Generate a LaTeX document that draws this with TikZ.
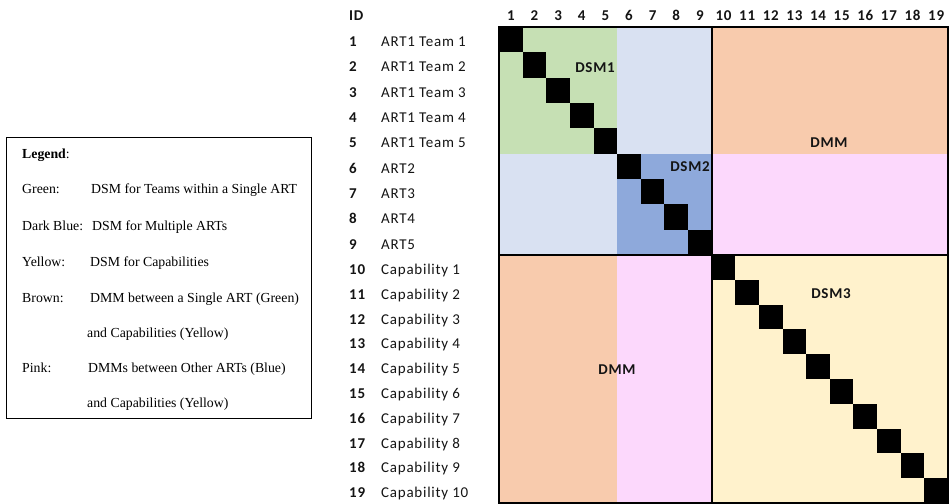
\documentclass[tikz,border=0pt]{standalone}
\usepackage{fontspec}
\setmainfont{Liberation Serif}
\newfontfamily\gridfont{Carlito}[LetterSpace=5]
\definecolor{dsmgreen}{HTML}{C6E0B4}
\definecolor{paleblue}{HTML}{D9E1F2}
\definecolor{midblue}{HTML}{8EA9DB}
\definecolor{peach}{HTML}{F8CBAD}
\definecolor{lightpink}{HTML}{FCD8FC}
\definecolor{paleyellow}{HTML}{FFF2CC}
\definecolor{ink}{HTML}{141414}

\tikzset{
  legtext/.style={anchor=base west, inner sep=0pt, font=\fontsize{13.8}{16}\selectfont},
  rowid/.style={anchor=base west, inner sep=0pt, text=ink, font=\gridfont\bfseries\fontsize{15}{17}\selectfont},
  rowname/.style={anchor=base west, inner sep=0pt, text=ink, font=\gridfont\fontsize{15}{17}\selectfont},
  colid/.style={anchor=base, inner sep=0pt, text=ink, font=\gridfont\bfseries\fontsize{15}{17}\selectfont},
  blocklabel/.style={inner sep=0pt, text=ink, font=\gridfont\bfseries\fontsize{15}{17}\selectfont},
  diagcell/.style={fill=black},
  blockline/.style={line width=2pt, black}
}

\begin{document}
\begin{tikzpicture}[x=1pt, y=-1pt]
\useasboundingbox (0,0) rectangle (949,503);

% ---------- block boundaries of the 19 x 19 matrix ----------
\pgfmathsetmacro{\cA}{499}
\pgfmathsetmacro{\cB}{499+23.63*5}
\pgfmathsetmacro{\cC}{499+23.63*9}
\pgfmathsetmacro{\cD}{499+23.63*19}
\pgfmathsetmacro{\rA}{27}
\pgfmathsetmacro{\rB}{27+25.33*5}
\pgfmathsetmacro{\rC}{255}
\pgfmathsetmacro{\rD}{255+24.8*10}

% ---------- coloured blocks ----------
\fill[dsmgreen]   (\cA,\rA) rectangle (\cB,\rB);
\fill[paleblue]   (\cB,\rA) rectangle (\cC,\rB);
\fill[paleblue]   (\cA,\rB) rectangle (\cB,\rC);
\fill[midblue]    (\cB,\rB) rectangle (\cC,\rC);
\fill[peach]      (\cC,\rA) rectangle (\cD,\rB);
\fill[lightpink]  (\cC,\rB) rectangle (\cD,\rC);
\fill[peach]      (\cA,\rC) rectangle (\cB,\rD);
\fill[lightpink]  (\cB,\rC) rectangle (\cC,\rD);
\fill[paleyellow] (\cC,\rC) rectangle (\cD,\rD);

% ---------- diagonal cells ----------
\foreach \i in {1,...,19}{
  \pgfmathsetmacro{\xl}{499+23.63*(\i-1)}
  \pgfmathsetmacro{\xr}{499+23.63*\i}
  \pgfmathsetmacro{\yt}{(\i-1)<=9 ? 27+25.33*(\i-1) : 255+24.8*(\i-10)}
  \pgfmathsetmacro{\yb}{\i<=9 ? 27+25.33*\i : 255+24.8*(\i-9)}
  \fill[diagcell] (\xl,\yt) rectangle (\xr,\yb);
}

% ---------- block borders ----------
\draw[blockline] (\cA,\rA) rectangle (\cD,\rD);
\draw[blockline] (\cC,\rA) -- (\cC,\rD);
\draw[blockline] (\cA,\rC) -- (\cD,\rC);

% ---------- block labels ----------
\node[blocklabel] (dsm1) at (595,68) {DSM1};
\node[blocklabel] (dsm2) at (690,167) {DSM2};
\node[blocklabel] (dmmtop) at (829,143) {DMM};
\node[blocklabel] (dsm3) at (831,294) {DSM3};
\node[blocklabel] (dmmbottom) at (617,370) {DMM};

% ---------- headers ----------
\node[rowid] (idhead) at (349,21) {ID};
\foreach \j in {1,...,19}{
  \pgfmathsetmacro{\xc}{499+23.63*(\j-0.5)}
  \node[colid] (col-\j) at (\xc,21) {\j};
}

% ---------- row labels ----------
\foreach \i/\name in {1/ART1 Team 1, 2/ART1 Team 2, 3/ART1 Team 3, 4/ART1 Team 4, 5/ART1 Team 5,
                      6/ART2, 7/ART3, 8/ART4, 9/ART5,
                      10/Capability 1, 11/Capability 2, 12/Capability 3, 13/Capability 4,
                      14/Capability 5, 15/Capability 6, 16/Capability 7, 17/Capability 8,
                      18/Capability 9, 19/Capability 10}{
  \pgfmathsetmacro{\yc}{\i<=9 ? 27+25.33*(\i-0.5) : 255+24.8*(\i-9.5)}
  \node[rowid] (rowid-\i) at (349,\yc+7) {\i};
  \node[rowname] (rowname-\i) at (381,\yc+7) {\name};
}

% ---------- legend ----------
\node[draw, line width=1.1pt, minimum width=305pt, minimum height=281pt, inner sep=0pt,
      anchor=north west] (legendbox) at (6,137) {};
\node[legtext] (leg-title) at (22,158) {\textbf{Legend}:};
\node[legtext] (leg-green) at (22,193) {Green:};
\node[legtext] (leg-green-d) at (91,193) {DSM for Teams within a Single ART};
\node[legtext] (leg-blue) at (22,230) {Dark Blue:};
\node[legtext] (leg-blue-d) at (92,230) {DSM for Multiple ARTs};
\node[legtext] (leg-yellow) at (22,266) {Yellow:};
\node[legtext] (leg-yellow-d) at (90,266) {DSM for Capabilities};
\node[legtext] (leg-brown) at (22,302) {Brown:};
\node[legtext] (leg-brown-d) at (90,302) {DMM between a Single ART (Green)};
\node[legtext] (leg-brown-e) at (87,337) {and Capabilities (Yellow)};
\node[legtext] (leg-pink) at (22,372) {Pink:};
\node[legtext] (leg-pink-d) at (88,372) {DMMs between Other ARTs (Blue)};
\node[legtext] (leg-pink-e) at (87,407) {and Capabilities (Yellow)};
\end{tikzpicture}
\end{document}
